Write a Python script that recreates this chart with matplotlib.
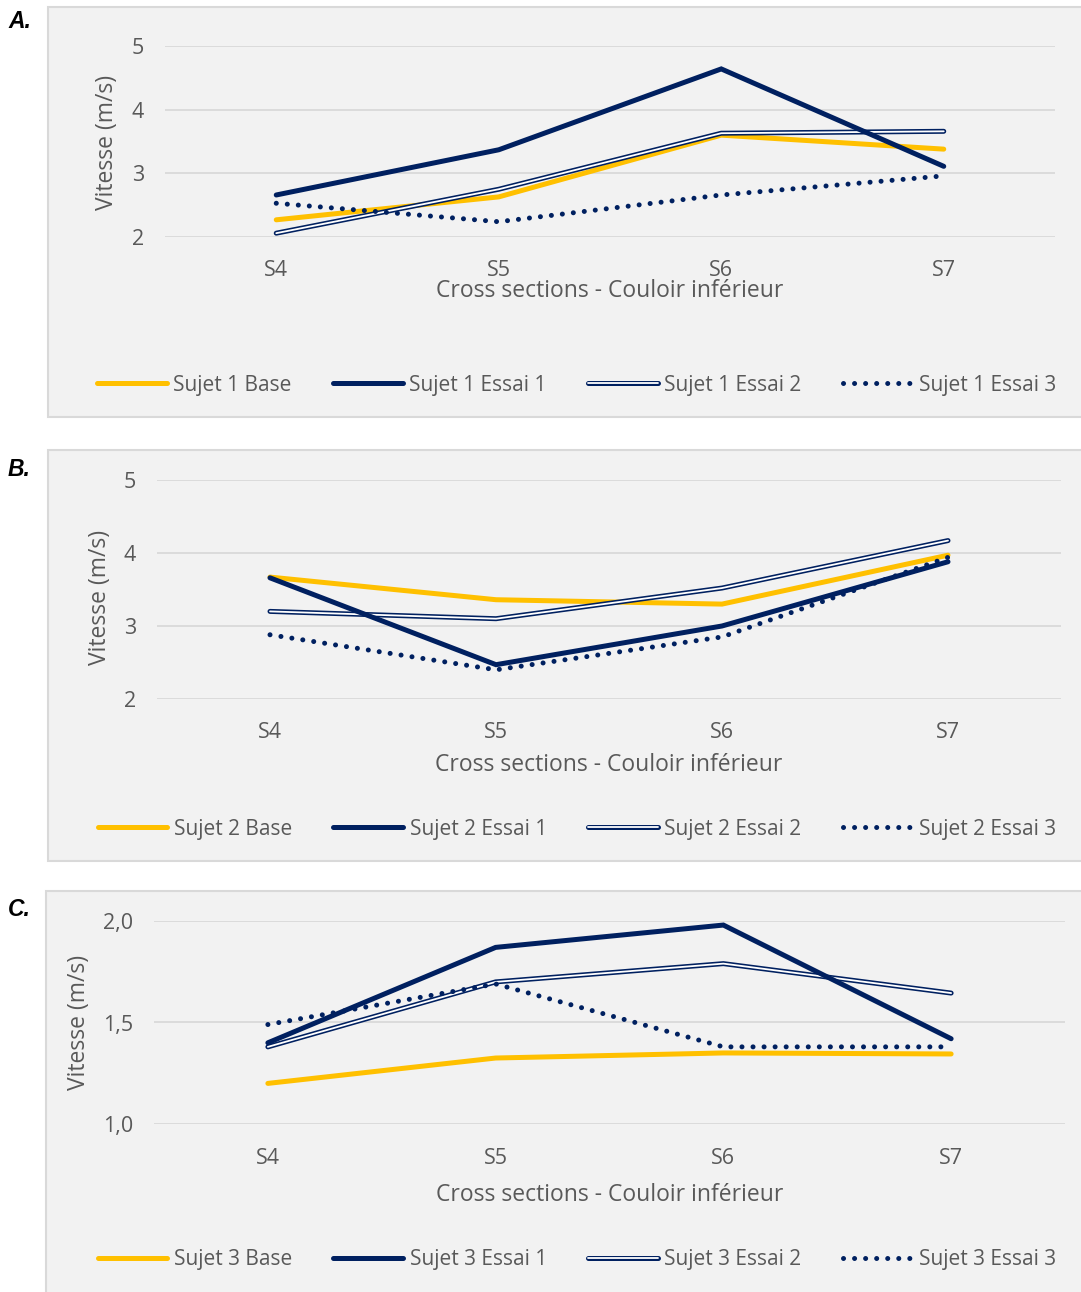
import matplotlib
matplotlib.use("Agg")
import matplotlib.pyplot as plt
from matplotlib.patches import Rectangle
from matplotlib.lines import Line2D
from matplotlib.legend_handler import HandlerTuple

# ---------------- data ----------------
sections = ["S4", "S5", "S6", "S7"]

a_base = [2.27, 2.63, 3.60, 3.38]
a_e1 = [2.66, 3.37, 4.64, 3.11]
a_e2 = [2.06, 2.75, 3.63, 3.66]
a_e3 = [2.53, 2.24, 2.66, 2.96]

b_base = [3.67, 3.36, 3.30, 3.97]
b_e1 = [3.66, 2.47, 3.00, 3.88]
b_e2 = [3.20, 3.10, 3.52, 4.17]
b_e3 = [2.88, 2.40, 2.85, 3.94]

c_base = [1.20, 1.325, 1.35, 1.345]
c_e1 = [1.40, 1.87, 1.98, 1.42]
c_e2 = [1.38, 1.70, 1.79, 1.645]
c_e3 = [1.49, 1.69, 1.38, 1.38]

ab_yticks = [2, 3, 4, 5]
ab_yticklabels = ["2", "3", "4", "5"]
c_yticks = [1.0, 1.5, 2.0]
c_yticklabels = ["1,0", "1,5", "2,0"]

x_title = "Cross sections - Couloir inférieur"
y_title = "Vitesse (m/s)"

# ---------------- style ----------------
YEL = "#FFC000"
NAVY = "#002060"
BG = "#F2F2F2"
BORDER = "#D9D9D9"
GRID = "#D9D9D9"
TXT = "#595959"
FONT = ["Open Sans", "DejaVu Sans"]
plt.rcParams["font.family"] = FONT

W, H = 1081, 1292
fig = plt.figure(figsize=(W / 100, H / 100), dpi=100)
fig.patch.set_facecolor("white")

LW = 3.6
TICK_FS = 15.5
TITLE_FS = 16.5
LEG_FS = 15


def fx(px):
    return px / W


def fy(py):
    return 1 - py / H


panels = [
    dict(label="A.", frame=(48, 7, 1090, 417), ax=(165, 46, 1055, 237),
         ylim=(2, 5), yticks=ab_yticks, ylabels=ab_yticklabels,
         series=(a_base, a_e1, a_e2, a_e3), subj="1",
         ylab=(107, 142), xlab_y=291, leg_y=385, label_y=22, xtick_pad=16.5),
    dict(label="B.", frame=(48, 450, 1090, 861), ax=(157, 480, 1061, 699),
         ylim=(2, 5), yticks=ab_yticks, ylabels=ab_yticklabels,
         series=(b_base, b_e1, b_e2, b_e3), subj="2",
         ylab=(100, 597), xlab_y=765, leg_y=829, label_y=469, xtick_pad=16.5),
    dict(label="C.", frame=(46, 891, 1090, 1300), ax=(154, 921, 1065, 1124),
         ylim=(1.0, 2.0), yticks=c_yticks, ylabels=c_yticklabels,
         series=(c_base, c_e1, c_e2, c_e3), subj="3",
         ylab=(79, 1022), xlab_y=1195, leg_y=1260, label_y=909, xtick_pad=17),
]

for p in panels:
    l, t, r, b = p["frame"]
    fig.patches.append(Rectangle((fx(l), fy(b)), fx(r - l), (b - t) / H,
                                 transform=fig.transFigure, facecolor=BG,
                                 edgecolor=BORDER, linewidth=1.5, zorder=-5))
    fig.text(fx(8), fy(p["label_y"]), p["label"], fontsize=16.5, fontweight="bold",
             fontstyle="italic", family=["Liberation Sans", "DejaVu Sans"],
             ha="left", va="center", color="black")

    al, at, ar, ab = p["ax"]
    ax = fig.add_axes([fx(al), fy(ab), fx(ar - al), (ab - at) / H])
    ax.set_facecolor("none")
    for s in ax.spines.values():
        s.set_visible(False)
    x = list(range(len(sections)))
    ax.set_xlim(-0.5, len(sections) - 0.5)
    ax.set_ylim(*p["ylim"])
    ax.set_yticks(p["yticks"])
    ax.set_yticklabels(p["ylabels"])
    ax.set_xticks(x)
    ax.set_xticklabels(sections)
    ax.tick_params(axis="both", length=0, labelsize=TICK_FS, colors=TXT)
    ax.tick_params(axis="y", pad=15)
    ax.tick_params(axis="x", pad=p["xtick_pad"])
    for yv in p["yticks"]:
        ax.axhline(yv, color=GRID, lw=1.3, zorder=1)

    base, e1, e2, e3 = p["series"]
    kw = dict(solid_capstyle="round", solid_joinstyle="miter", clip_on=False)
    ax.plot(x, base, color=YEL, lw=LW, zorder=3, **kw)
    ax.plot(x, e2, color=NAVY, lw=LW, zorder=4, **kw)
    ax.plot(x, e2, color="white", lw=1.3, zorder=4.1, **kw)
    ax.plot(x, e1, color=NAVY, lw=LW, zorder=5, **kw)
    ax.plot(x, e3, color=NAVY, lw=LW, linestyle=(0, (0.01, 2.2)),
            dash_capstyle="round", zorder=6, clip_on=False)

    ax.set_ylabel(y_title, fontsize=TITLE_FS, color=TXT)
    ax.yaxis.set_label_coords(fx(p["ylab"][0]), fy(p["ylab"][1]), transform=fig.transFigure)
    ax.set_xlabel(x_title, fontsize=TITLE_FS, color=TXT)
    ax.xaxis.set_label_coords(fx((al + ar) / 2), fy(p["xlab_y"]), transform=fig.transFigure)
    ax.yaxis.label.set_va("center")
    ax.xaxis.label.set_va("center")

    s = p["subj"]
    h_base = Line2D([], [], color=YEL, lw=LW, solid_capstyle="round")
    h_e1 = Line2D([], [], color=NAVY, lw=LW, solid_capstyle="round")
    h_e2 = (Line2D([], [], color=NAVY, lw=LW, solid_capstyle="round"),
            Line2D([], [], color="white", lw=1.3, solid_capstyle="round"))
    h_e3 = Line2D([], [], color=NAVY, lw=LW, linestyle=(0, (0.01, 2.2)),
                  dash_capstyle="round")
    leg = ax.legend([h_base, h_e1, h_e2, h_e3],
                    [f"Sujet {s} Base", f"Sujet {s} Essai 1",
                     f"Sujet {s} Essai 2", f"Sujet {s} Essai 3"],
                    handler_map={tuple: HandlerTuple(ndivide=1, pad=0)},
                    loc="center", bbox_to_anchor=(fx(577), fy(p["leg_y"])),
                    bbox_transform=fig.transFigure, ncol=4, frameon=False,
                    fontsize=LEG_FS, handlelength=3.35, handletextpad=0.3,
                    columnspacing=2.0, labelcolor=TXT)

fig.savefig("out.png", dpi=100, facecolor="white")
